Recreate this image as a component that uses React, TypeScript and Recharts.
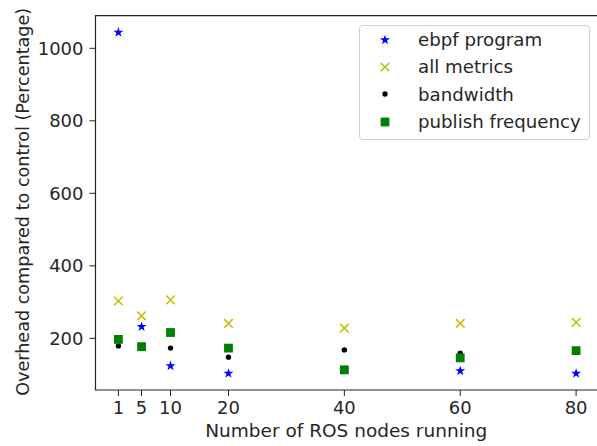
import { ScatterChart, Scatter, XAxis, YAxis, ReferenceArea, Label } from 'recharts'

const NODES = [1, 5, 10, 20, 40, 60, 80]
const EBPF = [1044, 232, 124, 103, 112, 110, 103]
const ALL_METRICS = [303, 262, 306, 241, 228, 241, 244]
const BANDWIDTH = [179, 177, 173, 148, 168, 159, 166]
const PUBLISH = [197, 177, 216, 173, 113, 146, 166]
const Y_TICKS = [200, 400, 600, 800, 1000]

const X_DOMAIN = [-2.95, 83.95]
const Y_DOMAIN = [57.4, 1090]

const FONT = '"DejaVu Sans", sans-serif'
const TEXT = '#262626'

const toPoints = (vals: number[]) => NODES.map((n, i) => ({ x: n, y: vals[i] }))

function starPoints(cx: number, cy: number, r: number) {
  const pts: string[] = []
  for (let i = 0; i < 10; i++) {
    const a = (-90 + i * 36) * Math.PI / 180
    const rad = i % 2 ? r * 0.382 : r
    pts.push(`${cx + rad * Math.cos(a)},${cy + rad * Math.sin(a)}`)
  }
  return pts.join(' ')
}

const StarMark = ({ cx, cy }: any) => <polygon points={starPoints(cx, cy, 5.3)} fill="#0000ff" />
const XMark = ({ cx, cy }: any) => (
  <g stroke="#bfbf00" strokeWidth={1.5}>
    <line x1={cx - 4.3} y1={cy - 4.3} x2={cx + 4.3} y2={cy + 4.3} />
    <line x1={cx - 4.3} y1={cy + 4.3} x2={cx + 4.3} y2={cy - 4.3} />
  </g>
)
const DotMark = ({ cx, cy }: any) => <circle cx={cx} cy={cy} r={2.7} fill="#000" />
const SquareMark = ({ cx, cy }: any) => <rect x={cx - 4.4} y={cy - 4.4} width={8.8} height={8.8} fill="#008000" />

const SERIES = [
  { name: 'ebpf program', values: EBPF, Mark: StarMark },
  { name: 'all metrics', values: ALL_METRICS, Mark: XMark },
  { name: 'bandwidth', values: BANDWIDTH, Mark: DotMark },
  { name: 'publish frequency', values: PUBLISH, Mark: SquareMark },
]

function LegendBox() {
  return (
    <div style={{
      position: 'absolute', left: 359, top: 25,
      width: 231, height: 115, boxSizing: 'border-box', border: '1px solid #d0d0d0', borderRadius: 4,
      background: 'rgba(255,255,255,0.8)', fontFamily: FONT, fontSize: 18.2, color: TEXT, paddingTop: 0,
    }}>
      {SERIES.map(({ name, Mark }) => (
        <div key={name} style={{ display: 'flex', alignItems: 'center', height: 27.3 }}>
          <svg width={58} height={20} style={{ flex: 'none' }}>
            <Mark cx={25} cy={10} />
          </svg>
          <span>{name}</span>
        </div>
      ))}
    </div>
  )
}

export default function App() {
  return (
    <div style={{ position: 'absolute', left: 0, top: 0, width: 597, height: 446, overflow: 'hidden', background: '#fff' }}>
      <ScatterChart width={620} height={446} margin={{ top: 15.7, right: 21, bottom: 0, left: 0 }}>
        <XAxis
          type="number" dataKey="x" domain={X_DOMAIN} ticks={NODES} allowDataOverflow
          height={56} axisLine={false} tickSize={6} tickMargin={5}
          tickLine={{ stroke: '#222' }}
          tick={{ fill: TEXT, fontSize: 18, fontFamily: FONT }}
        >
          <Label content={({ viewBox }: any) => (
            <text x={viewBox.x + viewBox.width / 2 - 1} y={437} textAnchor="middle" fill={TEXT} fontSize={18.5} fontFamily={FONT}>
              Number of ROS nodes running
            </text>
          )} />
        </XAxis>
        <YAxis
          type="number" dataKey="y" domain={Y_DOMAIN} ticks={Y_TICKS} allowDataOverflow
          width={95.5} axisLine={false} tickSize={6} tickMargin={6}
          tickLine={{ stroke: '#222' }}
          tick={{ fill: TEXT, fontSize: 18, fontFamily: FONT }}
        >
          <Label content={({ viewBox }: any) => {
            const cy = viewBox.y + viewBox.height / 2 - 1
            return (
              <text x={29} y={cy} transform={`rotate(-90, 29, ${cy})`} textAnchor="middle" fill={TEXT} fontSize={17.6} fontFamily={FONT}>
                Overhead compared to control (Percentage)
              </text>
            )
          }} />
        </YAxis>
        <ReferenceArea x1={X_DOMAIN[0]} x2={X_DOMAIN[1]} y1={Y_DOMAIN[0]} y2={Y_DOMAIN[1]} fill="none" stroke="#222" strokeWidth={1.2} fillOpacity={0} />
        {SERIES.map(({ name, values, Mark }) => (
          <Scatter key={name} name={name} data={toPoints(values)} shape={(p: any) => <Mark cx={p.cx} cy={p.cy} />} isAnimationActive={false} />
        ))}
      </ScatterChart>
      <LegendBox />
    </div>
  )
}
